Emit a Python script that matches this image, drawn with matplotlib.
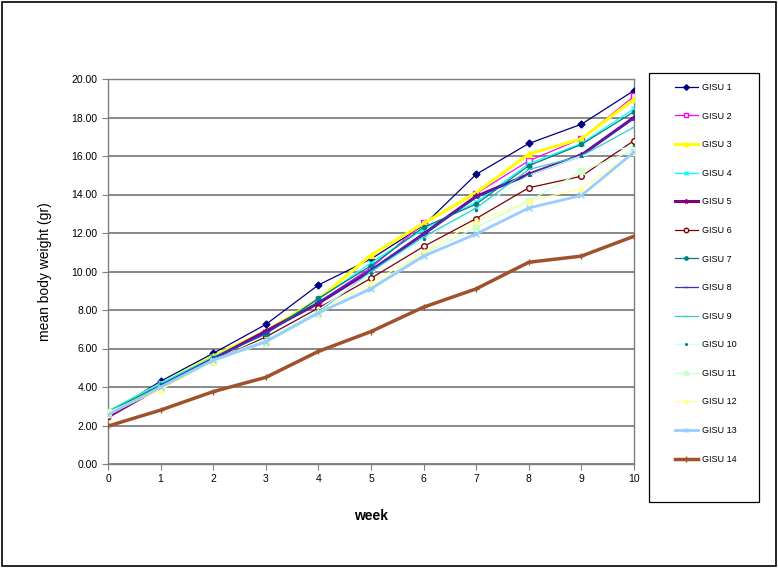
import matplotlib
matplotlib.use("Agg")
import matplotlib.pyplot as plt
from matplotlib.patches import Rectangle

plt.rcParams['font.family'] = ['Liberation Sans', 'DejaVu Sans']

weeks = [0, 1, 2, 3, 4, 5, 6, 7, 8, 9, 10]
labels = ["GISU 1", "GISU 2", "GISU 3", "GISU 4", "GISU 5", "GISU 6", "GISU 7",
          "GISU 8", "GISU 9", "GISU 10", "GISU 11", "GISU 12", "GISU 13", "GISU 14"]

gisu1 = [2.60, 4.30, 5.75, 7.25, 9.30, 10.65, 12.40, 15.05, 16.65, 17.65, 19.40]
gisu2 = [2.65, 4.10, 5.50, 6.80, 8.40, 10.20, 12.50, 14.05, 15.75, 16.90, 19.10]
gisu3 = [2.70, 4.15, 5.60, 6.90, 8.55, 10.85, 12.50, 14.10, 16.10, 16.90, 18.95]
gisu4 = [2.75, 4.20, 5.55, 6.85, 8.55, 10.45, 12.20, 13.60, 15.60, 16.65, 18.45]
gisu5 = [2.45, 4.00, 5.45, 6.90, 8.35, 10.05, 11.95, 13.90, 15.05, 16.05, 18.00]
gisu6 = [2.50, 3.90, 5.35, 6.60, 8.10, 9.65, 11.30, 12.75, 14.35, 14.95, 16.80]
gisu7 = [2.70, 4.10, 5.50, 6.75, 8.60, 10.30, 12.30, 13.50, 15.50, 16.60, 18.30]
gisu8 = [2.50, 4.10, 5.50, 6.80, 8.40, 10.10, 11.95, 13.85, 15.05, 16.05, 17.95]
gisu9 = [2.60, 4.00, 5.40, 6.40, 7.90, 10.00, 11.80, 13.30, 15.30, 16.00, 17.50]
gisu10 = [2.55, 4.00, 5.40, 6.50, 8.00, 9.90, 11.70, 13.20, 15.00, 16.00, 16.50]
gisu11 = [2.70, 3.90, 5.30, 6.30, 7.80, 9.20, 10.90, 12.30, 13.65, 15.20, 16.30]
gisu12 = [2.60, 3.85, 5.35, 6.40, 7.90, 9.40, 11.00, 12.60, 13.65, 14.30, 16.20]
gisu13 = [2.55, 4.00, 5.40, 6.35, 7.85, 9.10, 10.80, 11.95, 13.30, 13.95, 16.20]
gisu14 = [1.97, 2.80, 3.76, 4.50, 5.85, 6.88, 8.15, 9.10, 10.48, 10.80, 11.83]

series = [gisu1, gisu2, gisu3, gisu4, gisu5, gisu6, gisu7,
          gisu8, gisu9, gisu10, gisu11, gisu12, gisu13, gisu14]

styles = [
    dict(color="#000080", lw=0.9, marker="D", ms=3.5, mfc="#000080"),
    dict(color="#FF00FF", lw=0.9, marker="s", ms=4, mfc="white"),
    dict(color="#FFFF00", lw=2.2, marker="^", ms=4, mfc="#FFFF00"),
    dict(color="#00FFFF", lw=0.9, marker="x", ms=4, mfc="#00FFFF"),
    dict(color="#800080", lw=2.2, marker="*", ms=4, mfc="#800080"),
    dict(color="#800000", lw=0.9, marker="o", ms=4, mfc="white"),
    dict(color="#008080", lw=0.9, marker="o", ms=3, mfc="#008080"),
    dict(color="#3333CC", lw=0.9, marker="_", ms=4, mfc="#3333CC"),
    dict(color="#33CCCC", lw=0.9, marker="_", ms=4, mfc="#33CCCC"),
    dict(color="#CCFFFF", lw=0.9, marker=".", ms=3, mfc="#008080", mec="#008080"),
    dict(color="#CCFFCC", lw=0.9, marker="s", ms=4, mfc="#CCFFCC"),
    dict(color="#FFFF99", lw=0.9, marker="^", ms=4, mfc="#FFFF99"),
    dict(color="#99CCFF", lw=2.0, marker="x", ms=4, mfc="#99CCFF"),
    dict(color="#A0522D", lw=2.5, marker="+", ms=5, mfc="#A0522D"),
]

fig = plt.figure(figsize=(7.78, 5.68), dpi=100)
ax = fig.add_axes([108/778, 1-464/568, (634-108)/778, (464-79)/568])

handles = []
for vals, st, lab in zip(series, styles, labels):
    kw = dict(st)
    mec = kw.pop("mec", kw["color"])
    h, = ax.plot(weeks, vals, color=kw["color"], lw=kw["lw"], marker=kw["marker"],
                 ms=kw["ms"], mfc=kw["mfc"], mec=mec, mew=1.0, label=lab, zorder=3)
    handles.append(h)

ax.set_xlim(0, 10)
ax.set_ylim(0, 20)
ax.set_xticks(weeks)
ax.set_yticks([0, 2, 4, 6, 8, 10, 12, 14, 16, 18, 20])
ax.set_yticklabels([f"{v:.2f}" for v in ax.get_yticks()])
ax.yaxis.grid(True, color="#7f7f7f", lw=1.3, zorder=1)
ax.set_axisbelow(True)
for s in ax.spines.values():
    s.set_color("#7f7f7f")
    s.set_linewidth(1.0)
ax.tick_params(axis='both', direction='out', length=4, color="#7f7f7f",
               labelsize=7.5, labelcolor="black")
ax.set_xlabel("week", fontsize=10, fontweight="bold", labelpad=18)
ax.set_ylabel("mean body weight (gr)", fontsize=10, labelpad=14)

# legend box
fig.patches.append(Rectangle((649/778, 1-502/568), 110/778, 429/568,
                             transform=fig.transFigure, fill=False,
                             edgecolor="black", lw=0.9))
leg = fig.legend(handles=handles, labels=labels, loc="upper left",
                 bbox_to_anchor=(675/778, 1-83/568), frameon=False,
                 fontsize=6.5, labelspacing=2.17, handlelength=2.5,
                 handletextpad=0.45, borderaxespad=0, borderpad=0,
                 markerscale=0.8)

# outer border
fig.patches.append(Rectangle((0.003, 0.004), 0.994, 0.992, transform=fig.transFigure,
                             fill=False, edgecolor="black", lw=1.2))

fig.savefig("out.png", dpi=100)
